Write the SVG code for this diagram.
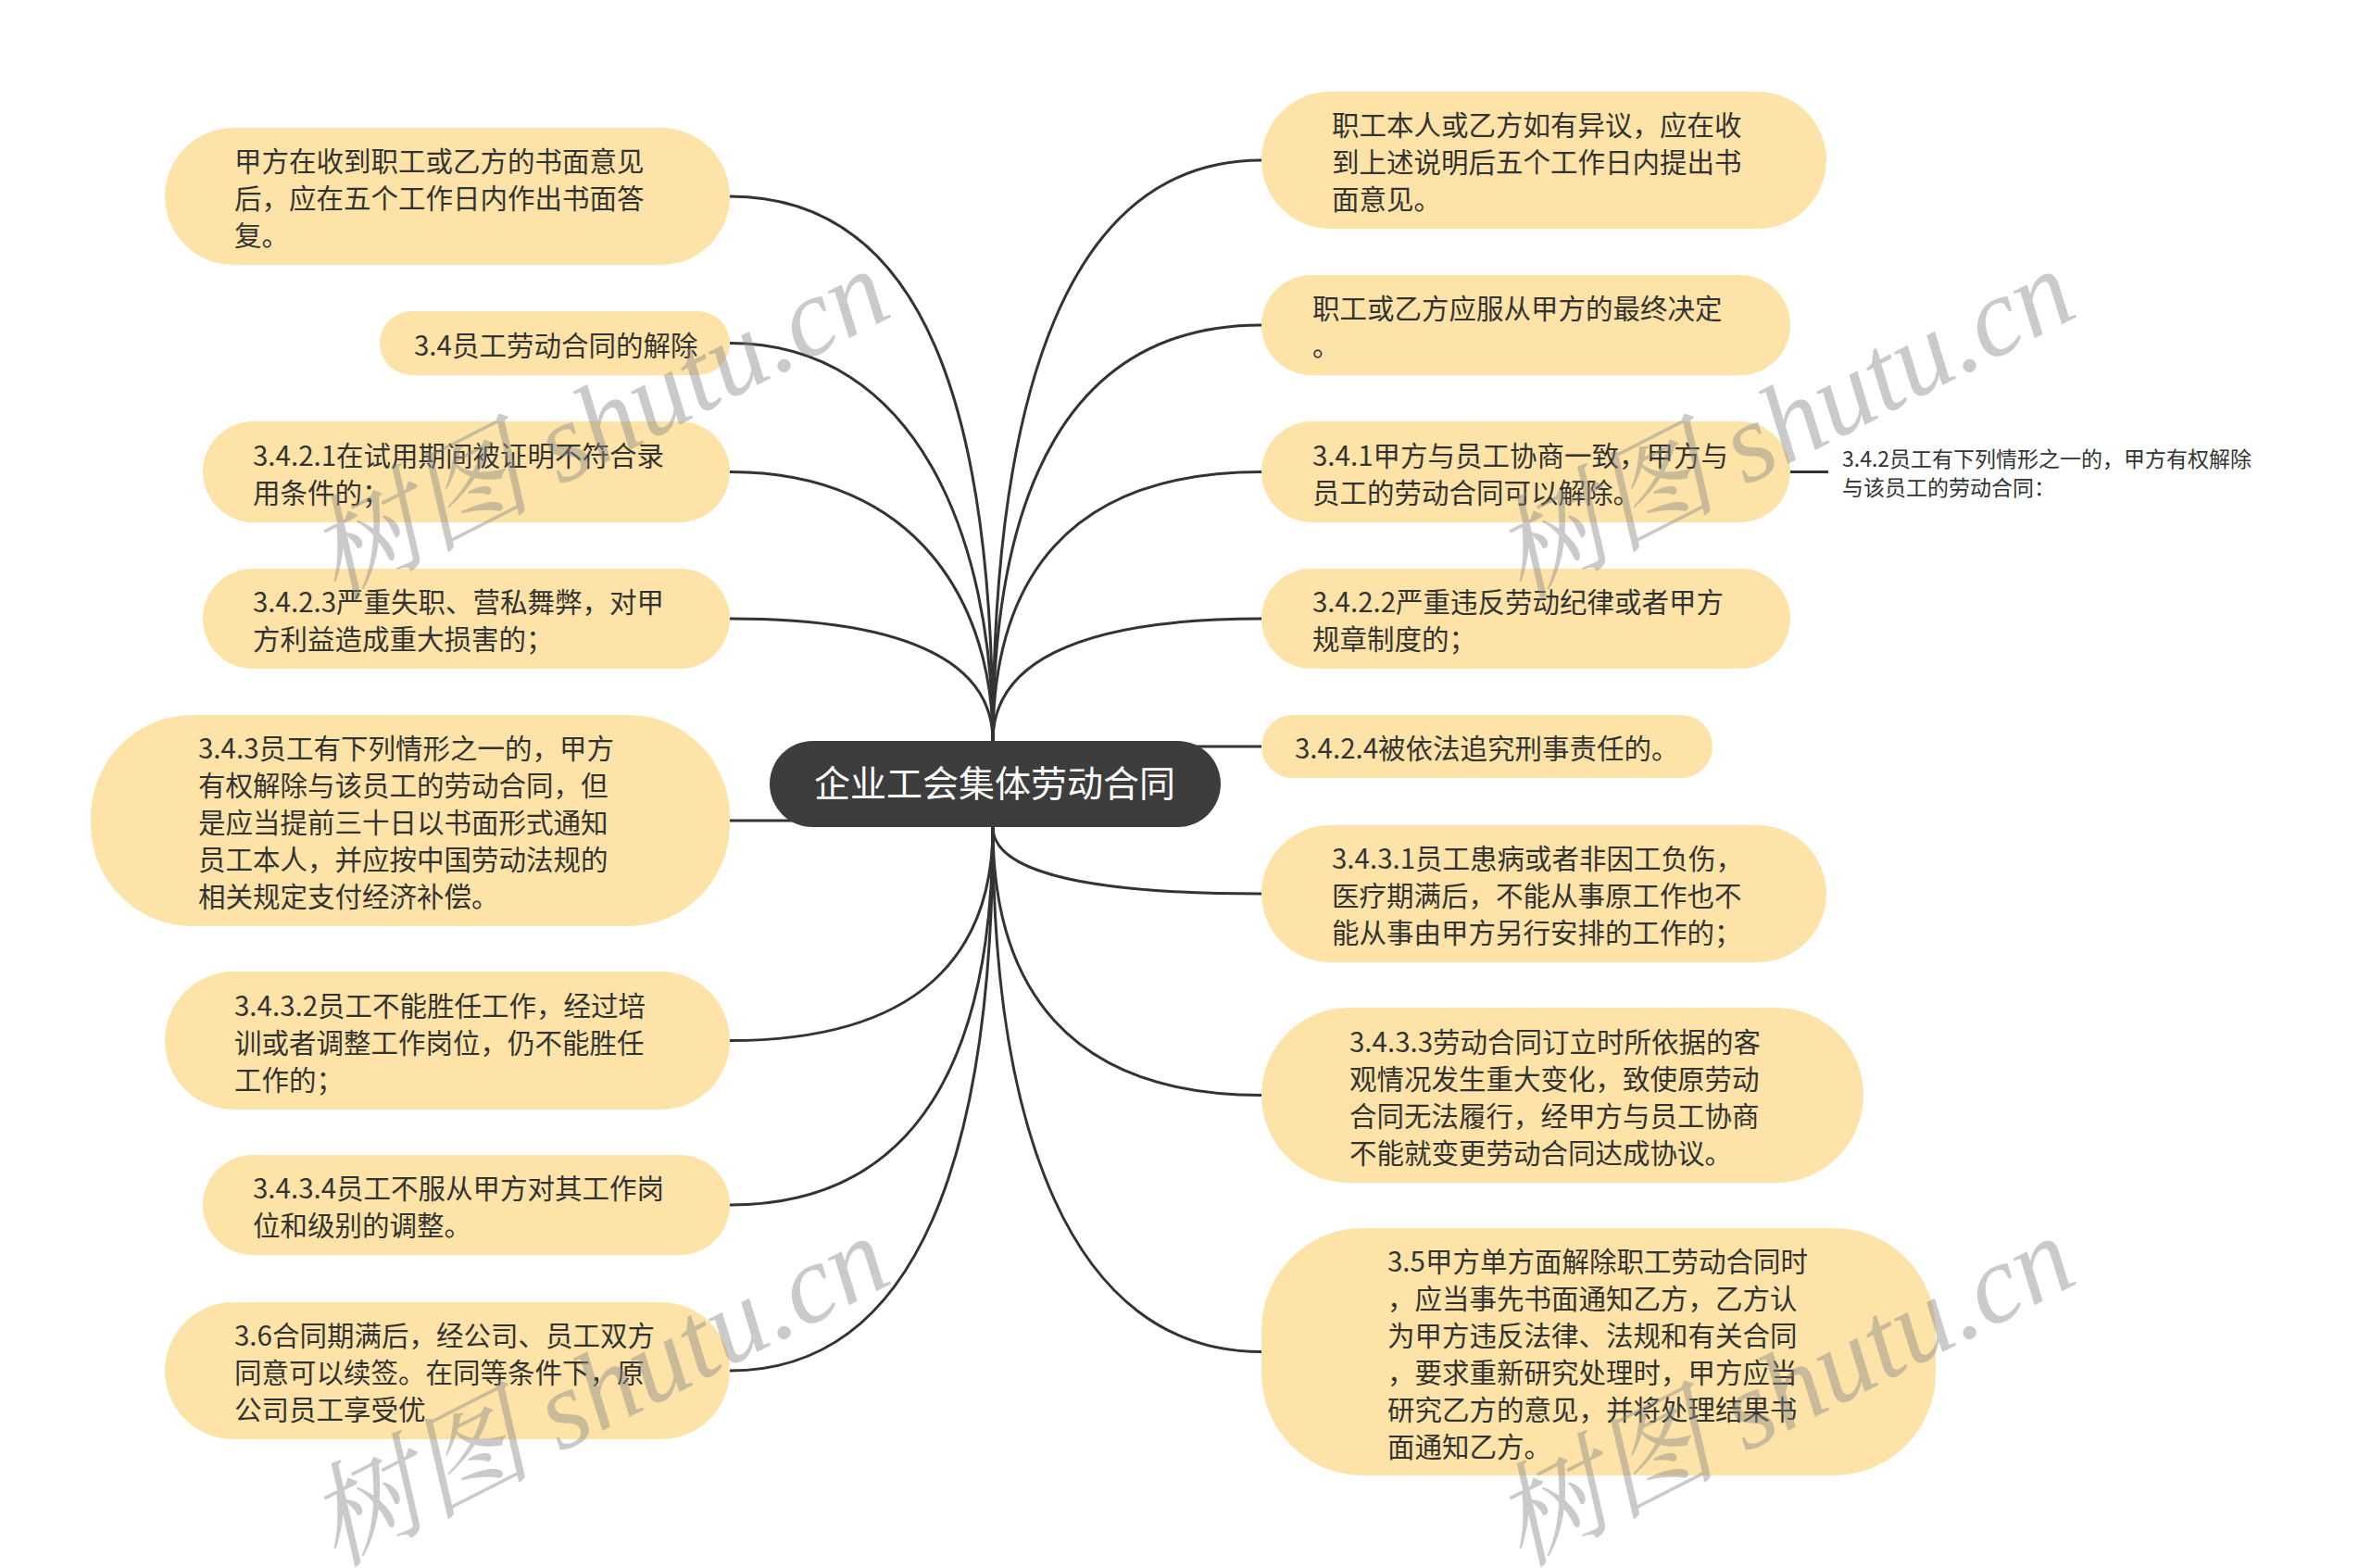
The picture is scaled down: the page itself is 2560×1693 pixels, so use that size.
<svg xmlns="http://www.w3.org/2000/svg" width="2560" height="1693" viewBox="0 0 2560 1693">
<style>
.n{fill:#fde3a7}
.t{font-family:"Noto Sans CJK SC","Noto Sans",sans-serif;font-size:29.5px;fill:#333333;dominant-baseline:central}
.c{fill:none;stroke:#333333;stroke-width:3}
.root{fill:#3d3d3d}
.rt{font-family:"Noto Sans CJK SC","Noto Sans",sans-serif;font-size:39px;fill:#ffffff;dominant-baseline:central;text-anchor:middle}
.s{font-family:"Noto Sans CJK SC","Noto Sans",sans-serif;font-size:23px;fill:#333333;dominant-baseline:central}
.wm{font-family:"Liberation Serif","Noto Serif CJK SC","Noto Sans CJK SC",serif;font-style:italic;font-size:121px;fill:#8a8a8a;fill-opacity:0.45}
</style>
<rect width="2560" height="1693" fill="#ffffff"/>
<g id="connectors">
<path class="c" d="M1072,800 C1072,447 1000,212 788,212"/>
<path class="c" d="M1072,800 C1072,582 990,370.5 788,370.5"/>
<path class="c" d="M1072,800 C1072,654 992,509.5 788,509.5"/>
<path class="c" d="M1072,800 C1072,721 992,668 788,668"/>
<path class="c" d="M1072,886 L788,886"/>
<path class="c" d="M1072,893 C1072,1031 992,1123.5 788,1123.5"/>
<path class="c" d="M1072,893 C1072,1139 992,1301 788,1301"/>
<path class="c" d="M1072,893 C1072,1243 992,1480 788,1480"/>
<path class="c" d="M1072,800 C1072,424 1153,173 1362,173"/>
<path class="c" d="M1072,800 C1072,531 1153,351 1362,351"/>
<path class="c" d="M1072,800 C1072,626 1153,509.5 1362,509.5"/>
<path class="c" d="M1072,800 C1072,721 1153,668 1362,668"/>
<path class="c" d="M1072,806 L1362,806"/>
<path class="c" d="M1072,893 C1072,936 1153,965 1362,965"/>
<path class="c" d="M1072,893 C1072,1065 1153,1182.5 1362,1182.5"/>
<path class="c" d="M1072,893 C1072,1211 1153,1459.5 1362,1459.5"/>
<path class="c" d="M1933,509.5 L1974,509.5"/>
</g>
<g id="root">
<rect class="root" x="831" y="800" width="487" height="93" rx="46.5"/>
<text class="rt" x="1074" y="843">企业工会集体劳动合同</text>
</g>
<g id="L1">
<rect class="n" x="178" y="138" width="610" height="148" rx="74"/>
<text class="t"><tspan x="253" y="172">甲方在收到职工或乙方的书面意见</tspan><tspan x="253" y="212">后，应在五个工作日内作出书面答</tspan><tspan x="253" y="252">复。</tspan></text>
</g>
<g id="L2">
<rect class="n" x="410" y="336" width="378" height="69" rx="34.5"/>
<text class="t" x="447" y="370.5">3.4员工劳动合同的解除</text>
</g>
<g id="L3">
<rect class="n" x="219" y="455" width="569" height="109" rx="54.5"/>
<text class="t"><tspan x="273" y="489.5">3.4.2.1在试用期间被证明不符合录</tspan><tspan x="273" y="529.5">用条件的；</tspan></text>
</g>
<g id="L4">
<rect class="n" x="219" y="614" width="569" height="108" rx="54"/>
<text class="t"><tspan x="273" y="648">3.4.2.3严重失职、营私舞弊，对甲</tspan><tspan x="273" y="688">方利益造成重大损害的；</tspan></text>
</g>
<g id="L5">
<rect class="n" x="98" y="772" width="690" height="228" rx="110"/>
<text class="t"><tspan x="214" y="806">3.4.3员工有下列情形之一的，甲方</tspan><tspan x="214" y="846">有权解除与该员工的劳动合同，但</tspan><tspan x="214" y="886">是应当提前三十日以书面形式通知</tspan><tspan x="214" y="926">员工本人，并应按中国劳动法规的</tspan><tspan x="214" y="966">相关规定支付经济补偿。</tspan></text>
</g>
<g id="L6">
<rect class="n" x="178" y="1049" width="610" height="149" rx="74.5"/>
<text class="t"><tspan x="253" y="1083.5">3.4.3.2员工不能胜任工作，经过培</tspan><tspan x="253" y="1123.5">训或者调整工作岗位，仍不能胜任</tspan><tspan x="253" y="1163.5">工作的；</tspan></text>
</g>
<g id="L7">
<rect class="n" x="219" y="1247" width="569" height="108" rx="54"/>
<text class="t"><tspan x="273" y="1281">3.4.3.4员工不服从甲方对其工作岗</tspan><tspan x="273" y="1321">位和级别的调整。</tspan></text>
</g>
<g id="L8">
<rect class="n" x="178" y="1406" width="610" height="148" rx="74"/>
<text class="t"><tspan x="253" y="1440">3.6合同期满后，经公司、员工双方</tspan><tspan x="253" y="1480">同意可以续签。在同等条件下，原</tspan><tspan x="253" y="1520">公司员工享受优</tspan></text>
</g>
<g id="R1">
<rect class="n" x="1362" y="99" width="610" height="148" rx="74"/>
<text class="t"><tspan x="1438" y="133">职工本人或乙方如有异议，应在收</tspan><tspan x="1438" y="173">到上述说明后五个工作日内提出书</tspan><tspan x="1438" y="213">面意见。</tspan></text>
</g>
<g id="R2">
<rect class="n" x="1362" y="297" width="571" height="108" rx="54"/>
<text class="t"><tspan x="1417" y="331">职工或乙方应服从甲方的最终决定</tspan><tspan x="1417" y="371">。</tspan></text>
</g>
<g id="R3">
<rect class="n" x="1362" y="455" width="571" height="109" rx="54.5"/>
<text class="t"><tspan x="1417" y="489.5">3.4.1甲方与员工协商一致，甲方与</tspan><tspan x="1417" y="529.5">员工的劳动合同可以解除。</tspan></text>
</g>
<g id="R3a">
<text class="s"><tspan x="1989" y="494">3.4.2员工有下列情形之一的，甲方有权解除</tspan><tspan x="1989" y="525">与该员工的劳动合同：</tspan></text>
</g>
<g id="R4">
<rect class="n" x="1362" y="614" width="571" height="108" rx="54"/>
<text class="t"><tspan x="1417" y="648">3.4.2.2严重违反劳动纪律或者甲方</tspan><tspan x="1417" y="688">规章制度的；</tspan></text>
</g>
<g id="R5">
<rect class="n" x="1362" y="772" width="487" height="68" rx="34"/>
<text class="t" x="1398" y="806">3.4.2.4被依法追究刑事责任的。</text>
</g>
<g id="R6">
<rect class="n" x="1362" y="891" width="610" height="148" rx="74"/>
<text class="t"><tspan x="1438" y="925">3.4.3.1员工患病或者非因工负伤，</tspan><tspan x="1438" y="965">医疗期满后，不能从事原工作也不</tspan><tspan x="1438" y="1005">能从事由甲方另行安排的工作的；</tspan></text>
</g>
<g id="R7">
<rect class="n" x="1362" y="1088" width="650" height="189" rx="94.5"/>
<text class="t"><tspan x="1457" y="1122.5">3.4.3.3劳动合同订立时所依据的客</tspan><tspan x="1457" y="1162.5">观情况发生重大变化，致使原劳动</tspan><tspan x="1457" y="1202.5">合同无法履行，经甲方与员工协商</tspan><tspan x="1457" y="1242.5">不能就变更劳动合同达成协议。</tspan></text>
</g>
<g id="R8">
<rect class="n" x="1362" y="1326" width="728" height="267" rx="110"/>
<text class="t"><tspan x="1498" y="1359.5">3.5甲方单方面解除职工劳动合同时</tspan><tspan x="1498" y="1399.5">，应当事先书面通知乙方，乙方认</tspan><tspan x="1498" y="1439.5">为甲方违反法律、法规和有关合同</tspan><tspan x="1498" y="1479.5">，要求重新研究处理时，甲方应当</tspan><tspan x="1498" y="1519.5">研究乙方的意见，并将处理结果书</tspan><tspan x="1498" y="1559.5">面通知乙方。</tspan></text>
</g>
<g id="watermarks">
<text class="wm" transform="translate(362,648) rotate(-27)">树图 shutu.cn</text>
<text class="wm" transform="translate(1642,648) rotate(-27)">树图 shutu.cn</text>
<text class="wm" transform="translate(362,1692) rotate(-27)">树图 shutu.cn</text>
<text class="wm" transform="translate(1642,1692) rotate(-27)">树图 shutu.cn</text>
</g>
</svg>
